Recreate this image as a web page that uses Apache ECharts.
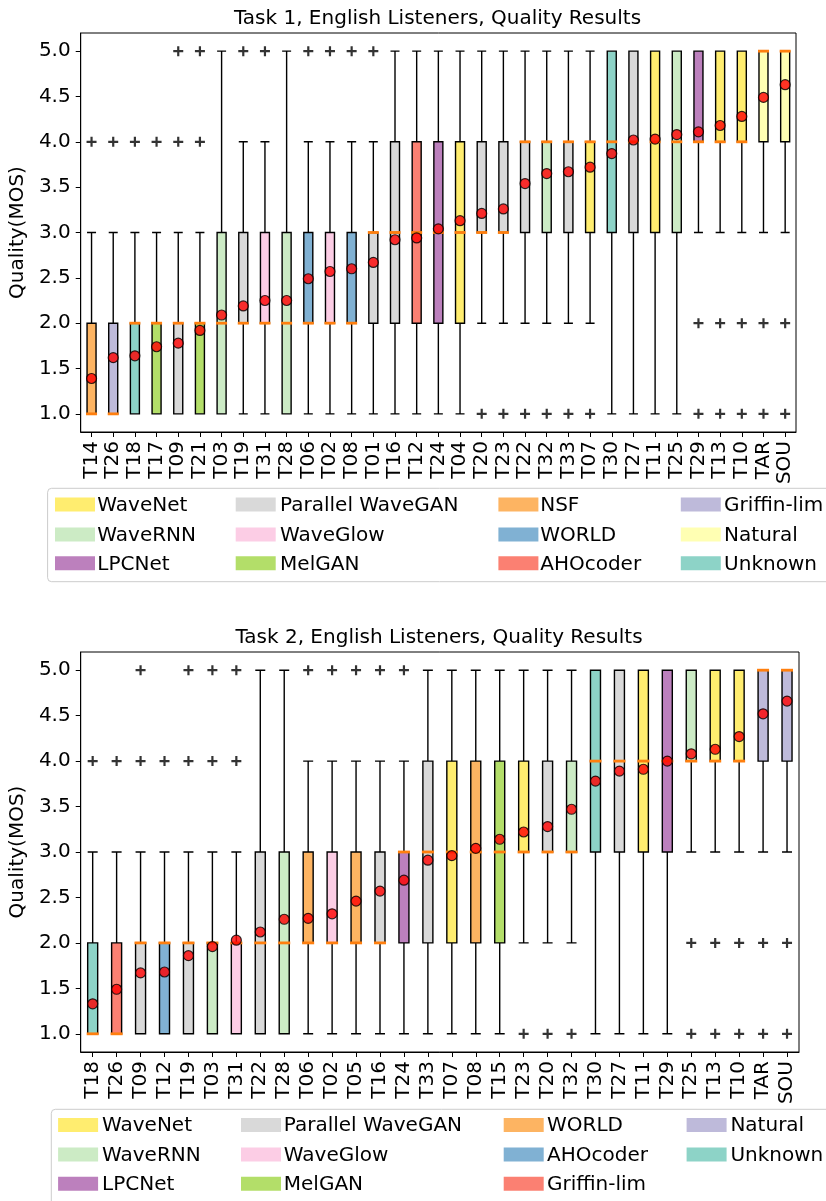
<!DOCTYPE html>
<html><head><meta charset="utf-8">
<script src="https://cdn.jsdelivr.net/npm/echarts@6/dist/echarts.min.js"></script>
<style>html,body{margin:0;padding:0;background:#fff}#c{width:826px;height:1201px}</style>
</head><body><div id="c"></div>
<script>
// ---------- Task 1 data ----------
const title1 = 'Task 1, English Listeners, Quality Results';
const categories1 = ['T14','T26','T18','T17','T09','T21','T03','T19','T31','T28','T06','T02','T08','T01','T16','T12','T24','T04','T20','T23','T22','T32','T33','T07','T30','T27','T11','T25','T29','T13','T10','TAR','SOU'];
const vocoders1 = ['NSF','Griffin-lim','Unknown','MelGAN','Parallel WaveGAN','MelGAN','WaveRNN','Parallel WaveGAN','WaveGlow','WaveRNN','WORLD','WaveGlow','WORLD','Parallel WaveGAN','Parallel WaveGAN','AHOcoder','LPCNet','WaveNet','Parallel WaveGAN','Parallel WaveGAN','Parallel WaveGAN','WaveRNN','Parallel WaveGAN','WaveNet','Unknown','Parallel WaveGAN','WaveNet','WaveRNN','LPCNet','WaveNet','WaveNet','Natural','Natural'];
const whiskerLow1  = [1,1,1,1,1,1,1,1,1,1,1,1,1,1,1,1,1,1,2,2,2,2,2,2,1,1,1,1,3,3,3,3,3];
const q1_1         = [1,1,1,1,1,1,1,2,2,1,2,2,2,2,2,2,2,2,3,3,3,3,3,3,3,3,3,3,4,4,4,4,4];
const median1      = [1,1,2,2,2,2,2,2,2,2,2,2,2,3,3,3,3,3,3,3,4,4,4,4,4,4,4,4,4,4,4,5,5];
const q3_1         = [2,2,2,2,2,2,3,3,3,3,3,3,3,3,4,4,4,4,4,4,4,4,4,4,5,5,5,5,5,5,5,5,5];
const whiskerHigh1 = [3,3,3,3,3,3,5,4,4,5,4,4,4,4,5,5,5,5,5,5,5,5,5,5,5,5,5,5,5,5,5,5,5];
const mean1 = [1.39,1.62,1.64,1.74,1.78,1.92,2.09,2.19,2.25,2.25,2.49,2.57,2.60,2.67,2.92,2.94,3.04,3.13,3.21,3.26,3.54,3.65,3.67,3.72,3.87,4.02,4.03,4.08,4.11,4.18,4.28,4.49,4.63];
const outliers1 = [['T14',4],['T26',4],['T18',4],['T17',4],['T09',4],['T09',5],['T21',4],['T21',5],['T19',5],['T31',5],['T06',5],['T02',5],['T08',5],['T01',5],['T20',1],['T23',1],['T22',1],['T32',1],['T33',1],['T07',1],['T29',2],['T29',1],['T13',2],['T13',1],['T10',2],['T10',1],['TAR',2],['TAR',1],['SOU',2],['SOU',1]];
const legendNames1 = ['WaveNet','WaveRNN','LPCNet','Parallel WaveGAN','WaveGlow','MelGAN','NSF','WORLD','AHOcoder','Griffin-lim','Natural','Unknown'];
const legendColors1 = ['#ffed6f','#ccebc5','#bc80bd','#d9d9d9','#fccde5','#b3de69','#fdb462','#80b1d3','#fb8072','#bebada','#ffffb3','#8dd3c7'];

// ---------- Task 2 data ----------
const title2 = 'Task 2, English Listeners, Quality Results';
const categories2 = ['T18','T26','T09','T12','T19','T03','T31','T22','T28','T06','T02','T05','T16','T24','T33','T07','T08','T15','T23','T20','T32','T30','T27','T11','T29','T25','T13','T10','TAR','SOU'];
const vocoders2 = ['Unknown','Griffin-lim','Parallel WaveGAN','AHOcoder','Parallel WaveGAN','WaveRNN','WaveGlow','Parallel WaveGAN','WaveRNN','WORLD','WaveGlow','WORLD','Parallel WaveGAN','LPCNet','Parallel WaveGAN','WaveNet','WORLD','MelGAN','WaveNet','Parallel WaveGAN','WaveRNN','Unknown','Parallel WaveGAN','WaveNet','LPCNet','WaveRNN','WaveNet','WaveNet','Natural','Natural'];
const whiskerLow2  = [1,1,1,1,1,1,1,1,1,1,1,1,1,1,1,1,1,1,2,2,2,1,1,1,1,3,3,3,3,3];
const q1_2         = [1,1,1,1,1,1,1,1,1,2,2,2,2,2,2,2,2,2,3,3,3,3,3,3,3,4,4,4,4,4];
const median2      = [1,1,2,2,2,2,2,2,2,2,2,2,2,3,3,3,3,3,3,3,3,4,4,4,4,4,4,4,5,5];
const q3_2         = [2,2,2,2,2,2,2,3,3,3,3,3,3,3,4,4,4,4,4,4,4,5,5,5,5,5,5,5,5,5];
const whiskerHigh2 = [3,3,3,3,3,3,3,5,5,4,4,4,4,4,5,5,5,5,5,5,5,5,5,5,5,5,5,5,5,5];
const mean2 = [1.33,1.49,1.67,1.68,1.86,1.96,2.03,2.12,2.26,2.27,2.32,2.46,2.57,2.69,2.91,2.96,3.04,3.14,3.22,3.28,3.47,3.78,3.89,3.91,4.00,4.08,4.13,4.27,4.52,4.66];
const outliers2 = [['T18',4],['T26',4],['T09',4],['T09',5],['T12',4],['T19',4],['T19',5],['T03',4],['T03',5],['T31',4],['T31',5],['T06',5],['T02',5],['T05',5],['T16',5],['T24',5],['T23',1],['T20',1],['T32',1],['T25',2],['T25',1],['T13',2],['T13',1],['T10',2],['T10',1],['TAR',2],['TAR',1],['SOU',2],['SOU',1]];
const legendNames2 = ['WaveNet','WaveRNN','LPCNet','Parallel WaveGAN','WaveGlow','MelGAN','WORLD','AHOcoder','Griffin-lim','Natural','Unknown'];
const legendColors2 = ['#ffed6f','#ccebc5','#bc80bd','#d9d9d9','#fccde5','#b3de69','#fdb462','#80b1d3','#fb8072','#bebada','#8dd3c7'];

// shared axis
const yTickValues = [1,1.5,2,2.5,3,3.5,4,4.5,5];
const yAxisName = 'Quality(MOS)';

// ---------- layout (styles only) ----------
const FONT = 'DejaVu Sans';
const FS = 20;
const layouts = [
  {grid:{left:79, top:33, width:717, height:399}, boxW:9, titleY:19,
   frame:[47.6,488.3,800,93.4], patchX:[55,235.7,498.4,680.8], textX:[97.3,280.1,540.2,724.1], rowY:[504.5,534.5,563.3]},
  {grid:{left:79, top:652, width:720, height:400}, boxW:10, titleY:638,
   frame:[51.3,1109.3,800,110], patchX:[58.1,241,503.7,686.6], textX:[102,283.8,547,730.4], rowY:[1125,1154.5,1183.7]}
];

const tasks = [
  {title:title1, cats:categories1, voc:vocoders1, lo:whiskerLow1, q1:q1_1, med:median1, q3:q3_1, hi:whiskerHigh1, mean:mean1, out:outliers1, ln:legendNames1, lc:legendColors1},
  {title:title2, cats:categories2, voc:vocoders2, lo:whiskerLow2, q1:q1_2, med:median2, q3:q3_2, hi:whiskerHigh2, mean:mean2, out:outliers2, ln:legendNames2, lc:legendColors2}
];

const PLUS = 'path://M3.9,0H6.1V3.9H10V6.1H6.1V10H3.9V6.1H0V3.9H3.9Z';

const grids = [], xAxes = [], yAxes = [], series = [], graphics = [];
tasks.forEach((t, k) => {
  const L = layouts[k];
  grids.push(Object.assign({show:true, borderColor:'#000', borderWidth:1, backgroundColor:'transparent'}, L.grid));
  xAxes.push({
    type:'category', gridIndex:k, data:t.cats, boundaryGap:true,
    axisLine:{show:true, lineStyle:{color:'#000', width:1}},
    axisTick:{show:true, alignWithLabel:true, length:5, lineStyle:{color:'#000'}},
    axisLabel:{interval:0, rotate:90, margin:9, fontSize:FS, fontFamily:FONT, color:'#000'},
    splitLine:{show:false}
  });
  yAxes.push({
    type:'value', gridIndex:k, min:0.8, max:5.2,
    name:yAxisName, nameLocation:'middle', nameGap:41,
    nameTextStyle:{fontSize:FS, fontFamily:FONT, color:'#000'},
    axisLine:{show:true, lineStyle:{color:'#000', width:1}},
    axisTick:{show:true, length:5, customValues:yTickValues, lineStyle:{color:'#000'}},
    axisLabel:{customValues:yTickValues, margin:10, fontSize:FS, fontFamily:FONT, color:'#000', formatter:v => v.toFixed(1)},
    splitLine:{show:false}
  });
  const colorOf = name => t.lc[t.ln.indexOf(name)];
  series.push({
    type:'boxplot', xAxisIndex:k, yAxisIndex:k, z:2,
    boxWidth:[L.boxW, L.boxW],
    itemStyle:{borderColor:'#000', borderWidth:1.4},
    emphasis:{disabled:true},
    data:t.cats.map((c, i) => ({value:[t.lo[i], t.q1[i], t.med[i], t.q3[i], t.hi[i]], itemStyle:{color:colorOf(t.voc[i]), borderColor:'#000'}}))
  });
  series.push({
    type:'custom', xAxisIndex:k, yAxisIndex:k, z:3,
    renderItem:(params, api) => {
      const p = api.coord([api.value(0), api.value(1)]);
      const hw = L.boxW / 2 + 1;
      return {type:'line', shape:{x1:p[0]-hw, y1:p[1], x2:p[0]+hw, y2:p[1]}, style:{stroke:'#ff7f0e', lineWidth:2.8}};
    },
    data:t.med.map((m, i) => [i, m])
  });
  series.push({
    type:'scatter', xAxisIndex:k, yAxisIndex:k, z:3,
    symbol:PLUS, symbolSize:10, itemStyle:{color:'#000'},
    emphasis:{disabled:true},
    data:t.out.map(o => [t.cats.indexOf(o[0]), o[1]])
  });
  series.push({
    type:'scatter', xAxisIndex:k, yAxisIndex:k, z:4,
    symbol:'circle', symbolSize:10, itemStyle:{color:'#ff0000', borderColor:'#000', borderWidth:1.2},
    emphasis:{disabled:true},
    data:t.mean.map((m, i) => [i, m])
  });
  graphics.push({type:'text', x:L.grid.left + L.grid.width/2, y:L.titleY,
    style:{text:t.title, font:`${FS}px "${FONT}"`, fill:'#000', align:'center', verticalAlign:'middle'}});
  graphics.push({type:'rect', shape:{x:L.frame[0], y:L.frame[1], width:L.frame[2], height:L.frame[3], r:4},
    style:{fill:'#fff', stroke:'#cccccc', lineWidth:1}, z:10});
  t.ln.forEach((name, j) => {
    const col = Math.floor(j / 3), row = j % 3;
    graphics.push({type:'rect', shape:{x:L.patchX[col], y:L.rowY[row]-7, width:40, height:14},
      style:{fill:t.lc[j]}, z:11});
    graphics.push({type:'text', x:L.textX[col], y:L.rowY[row]+1,
      style:{text:name, font:`${FS}px "${FONT}"`, fill:'#000', align:'left', verticalAlign:'middle'}, z:11});
  });
});

const chart = echarts.init(document.getElementById('c'), null, {renderer:'canvas'});
chart.setOption({
  animation:false,
  backgroundColor:'#fff',
  textStyle:{fontFamily:FONT},
  grid:grids, xAxis:xAxes, yAxis:yAxes, series:series,
  graphic:{elements:graphics}
});
</script></body></html>
